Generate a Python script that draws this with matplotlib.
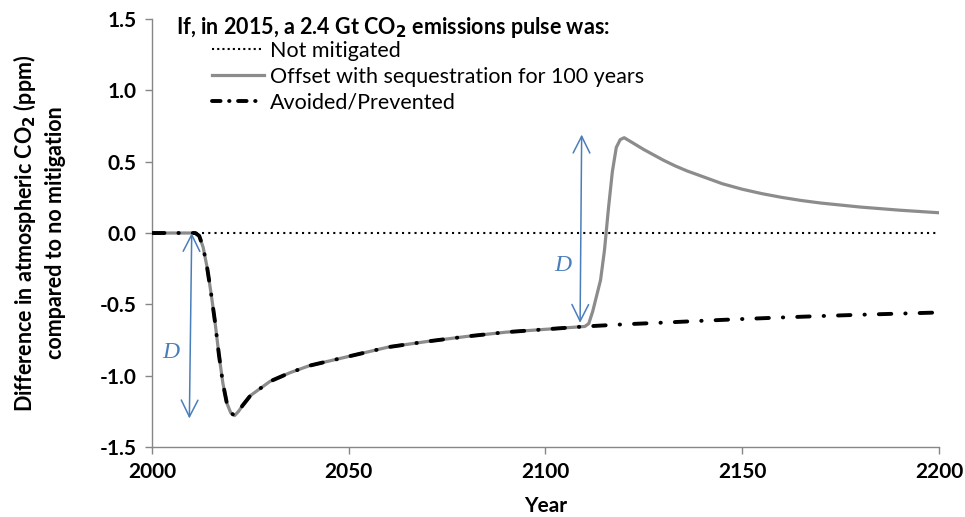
import matplotlib
matplotlib.use("Agg")
import matplotlib.pyplot as plt
from matplotlib.lines import Line2D

plt.rcParams['font.family'] = ['Lato', 'DejaVu Sans']

# ---- data ----
avoided_years = [2000, 2005, 2010, 2011, 2012, 2013, 2014, 2015, 2016, 2017, 2018,
                 2019, 2020, 2021, 2022, 2023, 2025, 2030, 2035, 2040, 2050, 2060,
                 2070, 2080, 2090, 2100, 2110, 2120, 2130, 2140, 2150, 2160, 2170,
                 2180, 2190, 2200]
avoided_values = [0, 0, 0, 0, -0.02, -0.10, -0.24, -0.42, -0.62, -0.85, -1.05,
                  -1.19, -1.26, -1.28, -1.25, -1.21, -1.14, -1.04, -0.98, -0.93, -0.865, -0.80,
                  -0.76, -0.725, -0.695, -0.675, -0.655, -0.64, -0.628, -0.615, -0.603, -0.592, -0.582,
                  -0.573, -0.565, -0.557]

offset_years = [2000, 2005, 2010, 2011, 2012, 2013, 2014, 2015, 2016, 2017, 2018,
                2019, 2020, 2021, 2022, 2023, 2025, 2030, 2035, 2040, 2050, 2060,
                2070, 2080, 2090, 2100, 2110, 2111, 2112, 2113, 2114, 2115, 2116,
                2117, 2118, 2119, 2120, 2122, 2125, 2128, 2130, 2133, 2136, 2140,
                2145, 2150, 2155, 2160, 2165, 2170, 2180, 2190, 2200]
offset_values = [0, 0, 0, 0, -0.02, -0.10, -0.24, -0.42, -0.62, -0.85, -1.05,
                 -1.19, -1.26, -1.28, -1.25, -1.21, -1.14, -1.04, -0.98, -0.93, -0.865, -0.80,
                 -0.76, -0.725, -0.695, -0.675, -0.655, -0.635, -0.55, -0.44, -0.33, -0.12, 0.17,
                 0.43, 0.60, 0.655, 0.668, 0.635, 0.585, 0.54, 0.51, 0.47, 0.435, 0.395,
                 0.345, 0.307, 0.276, 0.250, 0.228, 0.21, 0.182, 0.16, 0.142]

not_mitigated_years = [2000, 2200]
not_mitigated_values = [0, 0]

legend_title = "If, in 2015, a 2.4 Gt CO$_\\mathbf{2}$ emissions pulse was:"
series_labels = ["Not mitigated", "Offset with sequestration for 100 years", "Avoided/Prevented"]
x_ticks = [2000, 2050, 2100, 2150, 2200]
y_ticks = [-1.5, -1.0, -0.5, 0.0, 0.5, 1.0, 1.5]

# arrows: (x_top, y_top, x_bottom, y_bottom), label position
arrow1 = (2010.1, 0.0, 2009.5, -1.30)
arrow2 = (2109.2, 0.69, 2108.8, -0.63)
label1 = (2004.8, -0.84)
label2 = (2104.4, -0.23)

# ---- figure ----
fig = plt.figure(figsize=(9.65, 5.17), dpi=100)
ax = fig.add_axes([0.1575, 0.1354, 0.973 - 0.1575, 0.9632 - 0.1354])

gray = "#8c8c8c"
blue = "#4a7ebb"

ax.plot(not_mitigated_years, not_mitigated_values, color="black", lw=1.5,
        linestyle=(0, (1, 2)), zorder=2)
ax.plot(offset_years, offset_values, color=gray, lw=2.3, zorder=3,
        solid_joinstyle="round")
ax.plot(avoided_years, avoided_values, color="black", lw=2.8,
        linestyle=(0, (3.2, 3.6, 0.1, 3.6)), dash_capstyle="round", zorder=4)

for (xt, yt, xb, yb) in (arrow1, arrow2):
    ax.annotate("", xy=(xb, yb), xytext=(xt, yt),
                arrowprops=dict(arrowstyle="<->,head_length=1.2,head_width=0.6",
                                color=blue, lw=1.1, shrinkA=0, shrinkB=0),
                zorder=5)
for (lx, ly) in (label1, label2):
    ax.text(lx, ly, "D", color=blue, fontsize=17, fontstyle="italic",
            family=["Liberation Serif", "DejaVu Serif"], ha="center", va="center")

ax.set_xlim(2000, 2200)
ax.set_ylim(-1.5, 1.5)
ax.set_xticks(x_ticks)
ax.set_yticks(y_ticks)
ax.set_yticklabels([f"{v:.1f}" for v in y_ticks])
for s in ("top", "right"):
    ax.spines[s].set_visible(False)
for s in ("left", "bottom"):
    ax.spines[s].set_color("#868686")
    ax.spines[s].set_linewidth(1.0)
ax.tick_params(axis="both", direction="out", length=5, width=1, color="#868686",
               labelsize=15, pad=6)
for lab in ax.get_xticklabels() + ax.get_yticklabels():
    lab.set_fontweight("bold")

ax.set_xlabel("Year", fontsize=15, fontweight="bold", labelpad=10)
ax.set_ylabel("Difference in atmospheric CO$_\\mathbf{2}$ (ppm)\ncompared to no mitigation",
              fontsize=15.5, fontweight="bold", labelpad=24, linespacing=1.45)

ax.text(2006, 1.44, legend_title, fontsize=15.5, fontweight="bold", va="center", ha="left")

handles = [
    Line2D([], [], color="black", lw=1.5, linestyle=(0, (1, 1.5))),
    Line2D([], [], color=gray, lw=2.3),
    Line2D([], [], color="black", lw=2.8, linestyle=(0, (2.2, 2.2, 0.1, 2.2)),
           dash_capstyle="round"),
]
leg = ax.legend(handles, series_labels, loc="upper left",
                bbox_to_anchor=(0.057, 0.984), frameon=False, fontsize=15.5,
                handlelength=2.4, handletextpad=0.3, labelspacing=0.27,
                borderpad=0.2)

fig.savefig("out.png", dpi=100)
